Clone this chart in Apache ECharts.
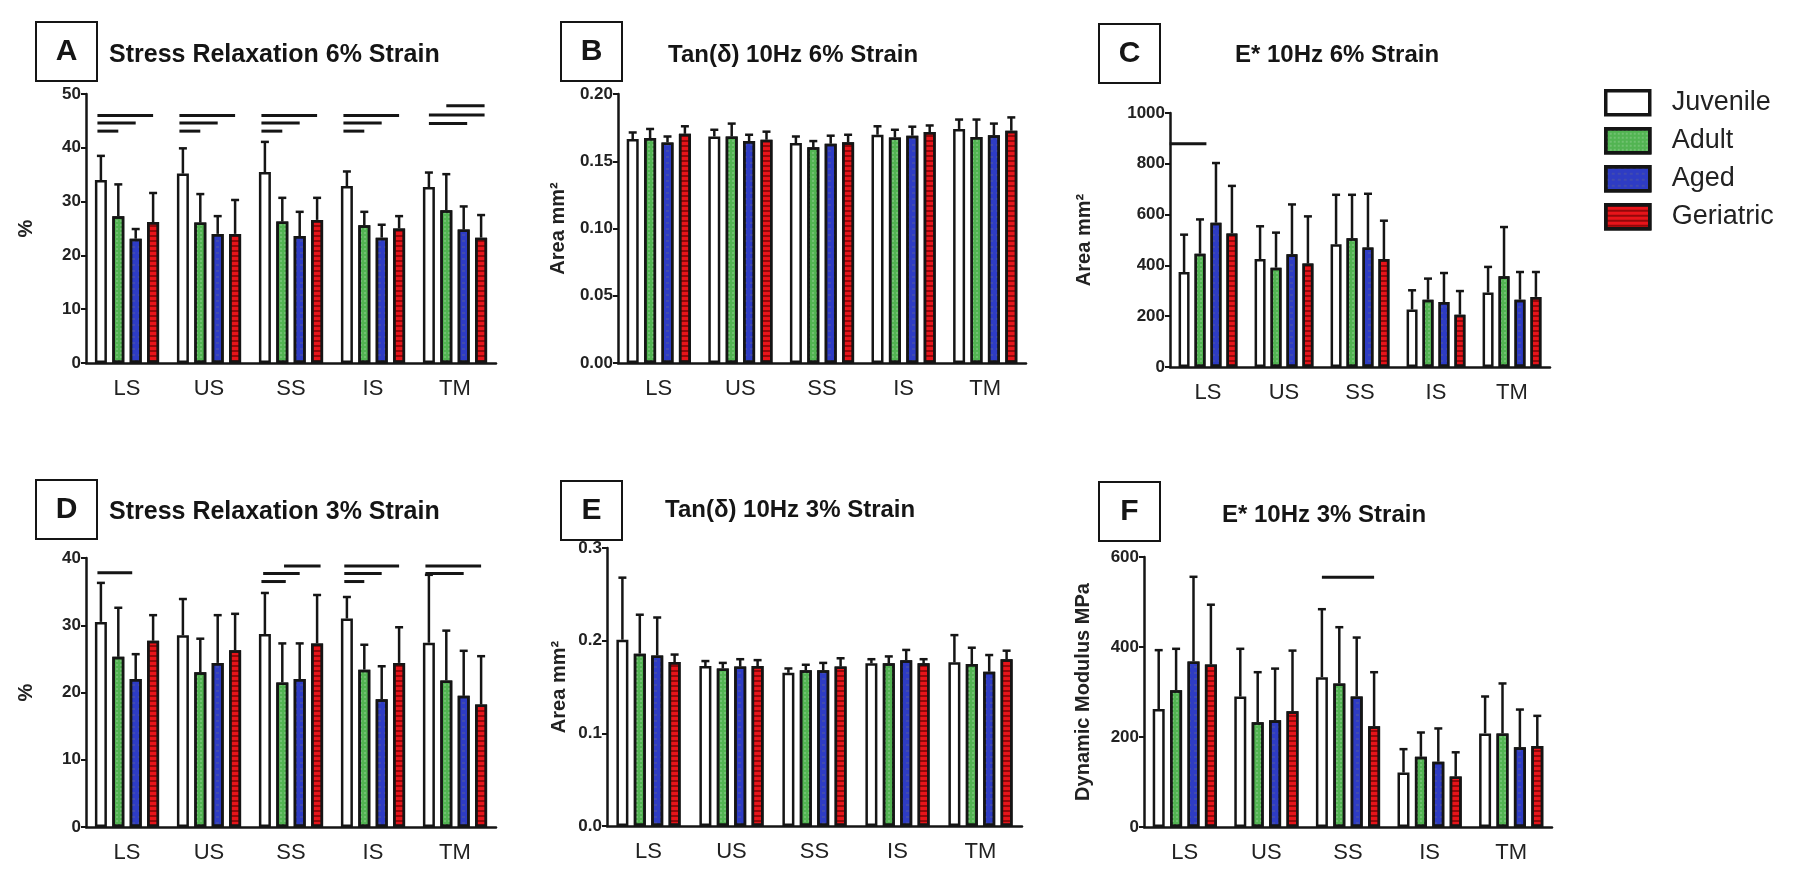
<!DOCTYPE html>
<html lang="en">
<head>
    <meta charset="UTF-8">
    <title>Viscoelastic properties by age group</title>
    <script src="https://cdn.jsdelivr.net/npm/echarts@6/dist/echarts.min.js"></script>
    <style>
        html, body { margin: 0; padding: 0; background: #fff; }
        #chart { width: 1800px; height: 878px; }
    </style>
</head>
<body>
<div id="chart"></div>
<script>
    var categories = ['LS', 'US', 'SS', 'IS', 'TM'];
    var groups = ['Juvenile', 'Adult', 'Aged', 'Geriatric'];

    // rows: Juvenile, Adult, Aged, Geriatric; cols: LS, US, SS, IS, TM
    // A - stress relaxation 6% (%)
    var relax6Mean = [
        [34.0, 35.2, 35.5, 32.9, 32.7],
        [27.3, 26.1, 26.3, 25.6, 28.4],
        [23.1, 24.0, 23.6, 23.3, 24.8],
        [26.2, 24.0, 26.6, 25.0, 23.3]
    ];
    var relax6Top = [
        [38.5, 39.9, 41.1, 35.6, 35.4],
        [33.2, 31.4, 30.7, 28.1, 35.1],
        [24.9, 27.3, 28.1, 25.7, 29.1],
        [31.6, 30.3, 30.7, 27.3, 27.5]
    ];
    // B - tan(delta) 10Hz 6%
    var tan6Mean = [
        [0.1665, 0.1684, 0.1635, 0.1697, 0.1740],
        [0.1672, 0.1684, 0.1605, 0.1677, 0.1680],
        [0.1640, 0.1650, 0.1630, 0.1690, 0.1694],
        [0.1704, 0.1660, 0.1642, 0.1717, 0.1727]
    ];
    var tan6Top = [
        [0.1714, 0.1734, 0.1684, 0.1760, 0.1810],
        [0.1740, 0.1780, 0.1650, 0.1734, 0.1810],
        [0.1684, 0.1697, 0.1690, 0.1757, 0.1780],
        [0.1760, 0.1720, 0.1697, 0.1766, 0.1826]
    ];
    // C - E* 10Hz 6%
    var estar6Mean = [
        [374, 425, 483, 226, 293],
        [446, 391, 507, 265, 357],
        [568, 444, 470, 256, 265],
        [526, 407, 425, 206, 276]
    ];
    var estar6Top = [
        [521, 554, 678, 302, 394],
        [581, 529, 678, 348, 551],
        [803, 640, 682, 370, 374],
        [713, 593, 576, 299, 374]
    ];
    // D - stress relaxation 3%
    var relax3Mean = [
        [30.5, 28.5, 28.7, 31.0, 27.4],
        [25.3, 23.0, 21.5, 23.4, 21.8],
        [22.0, 24.4, 22.0, 19.0, 19.5],
        [27.7, 26.3, 27.3, 24.4, 18.2]
    ];
    var relax3Top = [
        [36.3, 33.9, 34.8, 34.2, 37.5],
        [32.6, 28.0, 27.3, 27.1, 29.2],
        [25.7, 31.5, 27.3, 23.9, 26.2],
        [31.5, 31.7, 34.5, 29.7, 25.4]
    ];
    // E - tan(delta) 10Hz 3%
    var tan3Mean = [
        [0.2010, 0.1726, 0.1653, 0.1755, 0.1766],
        [0.1860, 0.1700, 0.1680, 0.1755, 0.1748],
        [0.1840, 0.1720, 0.1680, 0.1790, 0.1665],
        [0.1770, 0.1726, 0.1720, 0.1755, 0.1799]
    ];
    var tan3Top = [
        [0.268, 0.178, 0.170, 0.180, 0.2060],
        [0.228, 0.176, 0.174, 0.183, 0.1924],
        [0.225, 0.180, 0.176, 0.190, 0.1845],
        [0.185, 0.179, 0.181, 0.180, 0.1892]
    ];
    // F - E* 10Hz 3%
    var estar3Mean = [
        [262, 290, 333, 121, 208],
        [304, 233, 319, 156, 208],
        [368, 237, 290, 145, 177],
        [361, 257, 224, 112, 180]
    ];
    var estar3Top = [
        [393, 396, 484, 173, 290],
        [396, 344, 444, 210, 319],
        [556, 352, 421, 219, 261],
        [494, 392, 344, 166, 247]
    ];

    // significance bars: [category, from group, to group, y]
    var relax6Sig = [
        [0, -0.2, 3, 46.0], [0, -0.2, 2, 44.6], [0, -0.2, 1, 43.1],
        [1, -0.2, 3, 46.0], [1, -0.2, 2, 44.6], [1, -0.2, 1, 43.1],
        [2, -0.2, 3, 46.0], [2, -0.2, 2, 44.6], [2, -0.2, 1, 43.1],
        [3, -0.2, 3, 46.0], [3, -0.2, 2, 44.6], [3, -0.2, 1, 43.1],
        [4, 0, 3.2, 46.1], [4, 0, 2.2, 44.5], [4, 1, 3.2, 47.8]
    ];
    var tan6Sig = [];
    var estar6Sig = [[0, -0.9, 1.4, 879]];
    var relax3Sig = [
        [0, -0.2, 1.8, 37.8],
        [2, -0.2, 1.2, 36.5], [2, -0.1, 2, 37.7], [2, 1.1, 3.2, 38.8],
        [3, -0.15, 1, 36.5], [3, -0.15, 2, 37.7], [3, -0.15, 3, 38.8],
        [4, -0.2, 3, 38.8], [4, -0.2, 2, 37.7]
    ];
    var tan3Sig = [];
    var estar3Sig = [[2, 0, 3, 555]];

    var panels = [
        {letter: 'A', title: 'Stress Relaxation 6% Strain', yName: '%', mean: relax6Mean, top: relax6Top, sig: relax6Sig,
            min: 0, max: 50, step: 10, dec: 0, grid: {left: 86, top: 94, width: 410, height: 269}, nameGap: 50,
            box: [36, 22], titleX: 109, titleY: 55, titleSize: 25, bw: 12},
        {letter: 'B', title: 'Tan(δ) 10Hz 6% Strain', yName: 'Area mm²', mean: tan6Mean, top: tan6Top, sig: tan6Sig,
            min: 0, max: 0.2, step: 0.05, dec: 2, grid: {left: 618, top: 94, width: 408, height: 269}, nameGap: 50,
            box: [561, 22], titleX: 668, titleY: 55, titleSize: 24, bw: 12},
        {letter: 'C', title: 'E* 10Hz 6% Strain', yName: 'Area mm²', mean: estar6Mean, top: estar6Top, sig: estar6Sig,
            min: 0, max: 1000, step: 200, dec: 0, grid: {left: 1170, top: 113, width: 380, height: 254}, nameGap: 76,
            box: [1099, 24], titleX: 1235, titleY: 55, titleSize: 24, bw: 11},
        {letter: 'D', title: 'Stress Relaxation 3% Strain', yName: '%', mean: relax3Mean, top: relax3Top, sig: relax3Sig,
            min: 0, max: 40, step: 10, dec: 0, grid: {left: 86, top: 558, width: 410, height: 269}, nameGap: 50,
            box: [36, 480], titleX: 109, titleY: 512, titleSize: 25, bw: 12},
        {letter: 'E', title: 'Tan(δ) 10Hz 3% Strain', yName: 'Area mm²', mean: tan3Mean, top: tan3Top, sig: tan3Sig,
            min: 0, max: 0.3, step: 0.1, dec: 1, grid: {left: 607, top: 548, width: 415, height: 278}, nameGap: 38,
            box: [561, 481], titleX: 665, titleY: 510, titleSize: 24, bw: 12},
        {letter: 'F', title: 'E* 10Hz 3% Strain', yName: 'Dynamic Modulus MPa', mean: estar3Mean, top: estar3Top, sig: estar3Sig,
            min: 0, max: 600, step: 200, dec: 0, grid: {left: 1144, top: 557, width: 408, height: 270}, nameGap: 51,
            box: [1099, 482], titleX: 1222, titleY: 515, titleSize: 24, bw: 12}
    ];

    var FONT = '"Liberation Sans", Arial, Helvetica, sans-serif';
    var INK = '#151515';
    var GAP = 0.45;

    var fills = [
        {color: '#ffffff'},
        {color: '#52b452', decal: {symbol: 'rect', symbolSize: 1, dashArrayX: [2, 2], dashArrayY: [2, 2], color: 'rgba(255,255,255,0.18)'}},
        {color: '#2e3cc4', decal: {symbol: 'rect', symbolSize: 1, dashArrayX: [3, 3], dashArrayY: [2, 4], color: 'rgba(120,120,120,0.25)'}},
        {color: '#e8141a', decal: {symbol: 'rect', symbolSize: 1, dashArrayX: [1, 0], dashArrayY: [1.5, 3], color: 'rgba(90,0,0,0.6)'}}
    ];

    function errorBars(pitch) {
        return function (params, api) {
            var cat = api.value(0), s = api.value(3);
            var p0 = api.coord([cat, api.value(1)]);
            var p1 = api.coord([cat, api.value(2)]);
            var x = p0[0] + (s - 1.5) * pitch;
            var st = {stroke: INK, lineWidth: 2.5};
            return {type: 'group', children: [
                {type: 'line', shape: {x1: x, y1: p0[1], x2: x, y2: p1[1]}, style: st},
                {type: 'line', shape: {x1: x - 4, y1: p1[1], x2: x + 4, y2: p1[1]}, style: st}
            ]};
        };
    }

    function sigBars(pitch) {
        return function (params, api) {
            var p = api.coord([api.value(0), api.value(3)]);
            var x1 = p[0] + (api.value(1) - 1.5) * pitch;
            var x2 = p[0] + (api.value(2) - 1.5) * pitch;
            return {type: 'line', shape: {x1: x1, y1: p[1], x2: x2, y2: p[1]},
                style: {stroke: INK, lineWidth: 3}};
        };
    }

    var grids = [], xAxes = [], yAxes = [], series = [], graphics = [];

    panels.forEach(function (pn, i) {
        var pitch = pn.bw * (1 + GAP);
        grids.push(pn.grid);
        xAxes.push({
            type: 'category', gridIndex: i, data: categories,
            axisLine: {lineStyle: {color: INK, width: 2.5}},
            axisTick: {alignWithLabel: true, length: 5, lineStyle: {color: INK, width: 2.5}},
            axisLabel: {color: '#222', fontSize: 22, fontFamily: FONT, margin: 15}
        });
        yAxes.push({
            type: 'value', gridIndex: i, min: pn.min, max: pn.max, interval: pn.step,
            name: pn.yName, nameLocation: 'middle', nameGap: pn.nameGap, nameRotate: 90,
            nameTextStyle: {color: '#222', fontSize: 20, fontWeight: 'bold', fontFamily: FONT},
            axisLine: {show: true, lineStyle: {color: INK, width: 2.5}},
            axisTick: {show: true, length: 5, lineStyle: {color: INK, width: 2}},
            axisLabel: {color: '#222', fontSize: 17, fontWeight: 'bold', fontFamily: FONT, margin: 5,
                formatter: function (v) { return v.toFixed(pn.dec); }},
            splitLine: {show: false}
        });

        var errData = [];
        groups.forEach(function (g, k) {
            var st = {color: fills[k].color, borderColor: INK, borderWidth: 2.5};
            if (fills[k].decal) st.decal = fills[k].decal;
            series.push({
                type: 'bar', name: g, xAxisIndex: i, yAxisIndex: i,
                data: pn.mean[k], barWidth: pn.bw, barGap: (GAP * 100) + '%',
                itemStyle: st, emphasis: {disabled: true}, silent: true
            });
            pn.mean[k].forEach(function (v, c) {
                errData.push([c, v, pn.top[k][c], k]);
            });
        });
        series.push({
            type: 'custom', name: 'err' + pn.letter, xAxisIndex: i, yAxisIndex: i,
            renderItem: errorBars(pitch), data: errData, encode: {x: 0, y: [1, 2]}, z: 3, silent: true
        });
        if (pn.sig.length) {
            series.push({
                type: 'custom', name: 'sig' + pn.letter, xAxisIndex: i, yAxisIndex: i,
                renderItem: sigBars(pitch), data: pn.sig, encode: {x: 0, y: 3}, z: 3, silent: true
            });
        }

        graphics.push({
            type: 'rect', shape: {x: pn.box[0], y: pn.box[1], width: 61, height: 59},
            style: {fill: '#fff', stroke: INK, lineWidth: 2}
        });
        graphics.push({
            type: 'text',
            style: {text: pn.letter, x: pn.box[0] + 30.5, y: pn.box[1] + 30, font: 'bold 30px ' + FONT,
                fill: INK, textAlign: 'center', textVerticalAlign: 'middle', align: 'center', verticalAlign: 'middle'}
        });
        graphics.push({
            type: 'text',
            style: {text: pn.title, x: pn.titleX, y: pn.titleY, font: 'bold ' + pn.titleSize + 'px ' + FONT,
                fill: INK, textAlign: 'left', textVerticalAlign: 'middle', align: 'left', verticalAlign: 'middle'}
        });
    });

    var myChart = echarts.init(document.getElementById('chart'), null, {renderer: 'canvas'});
    myChart.setOption({
        backgroundColor: '#fff',
        animation: false,
        grid: grids,
        xAxis: xAxes,
        yAxis: yAxes,
        legend: {
            data: groups, orient: 'vertical', left: 1599, top: 84,
            itemWidth: 44, itemHeight: 24, itemGap: 10.5, icon: 'rect',
            itemStyle: {borderColor: INK, borderWidth: 3.5},
            textStyle: {color: '#222', fontSize: 27, fontFamily: FONT, lineHeight: 24, padding: [0, 0, 0, 17]},
            selectedMode: false
        },
        graphic: graphics,
        series: series
    });
</script>
</body>
</html>
